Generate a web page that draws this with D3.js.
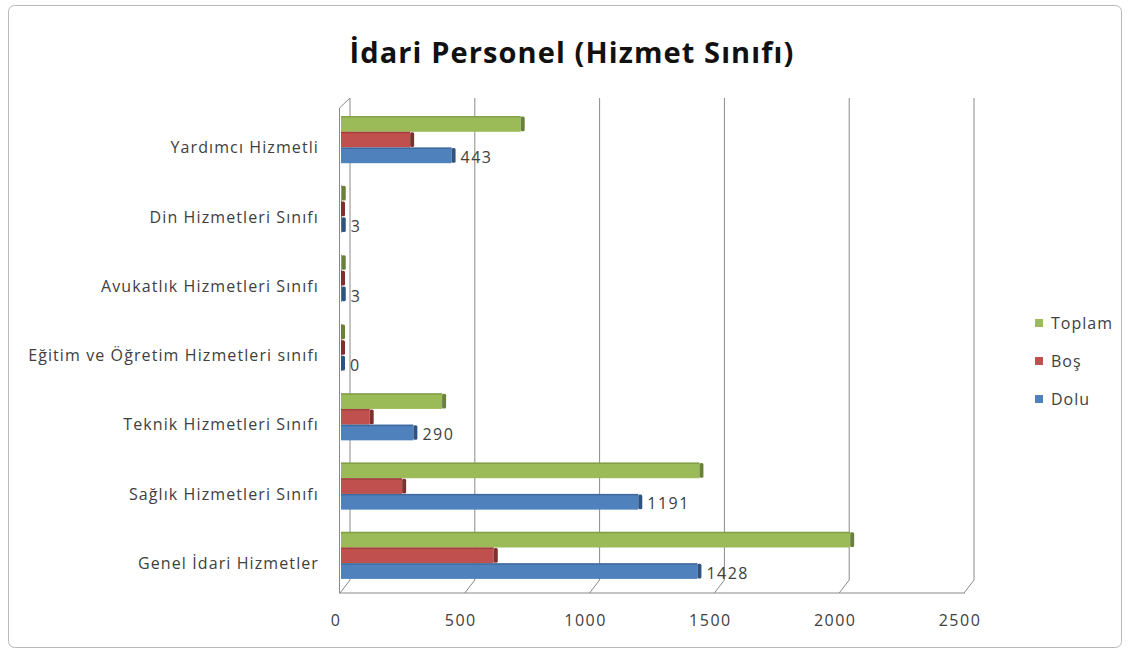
<!DOCTYPE html>
<html>
<head>
<meta charset="utf-8">
<script src="https://cdn.jsdelivr.net/npm/d3@7"></script>
<style>
  body { margin: 0; background: #fff; }
  text { font-family: "Open Sans", "DejaVu Sans", sans-serif; }
</style>
</head>
<body>
<div id="chart"></div>
<script>
// veriler
var categories = ["Yardımcı Hizmetli", "Din Hizmetleri Sınıfı", "Avukatlık Hizmetleri Sınıfı",
    "Eğitim ve Öğretim Hizmetleri sınıfı", "Teknik Hizmetleri Sınıfı", "Sağlık Hizmetleri Sınıfı",
    "Genel İdari Hizmetler"];
var seriesNames = ["Toplam", "Boş", "Dolu"];
var toplam = [720, 3, 3, 0, 405, 1436, 2040];
var bos = [277, 0, 0, 0, 115, 245, 612];
var dolu = [443, 3, 3, 0, 290, 1191, 1428];
var xTicks = [0, 500, 1000, 1500, 2000, 2500];

var colors = {Toplam: "#9BBB59", "Boş": "#C0504D", Dolu: "#4F81BD"};
var darkColors = {Toplam: "#6A8238", "Boş": "#7E302E", Dolu: "#2F5380"};

var width = 1130, height = 653;
var svg = d3.select("#chart").append("svg")
    .attr("width", width)
    .attr("height", height);

// dış çerçeve
svg.append("rect")
    .attr("x", 8.5).attr("y", 5.5)
    .attr("width", 1113).attr("height", 642)
    .attr("rx", 6)
    .attr("fill", "#fff")
    .attr("stroke", "#b8b8b8");

svg.append("text")
    .attr("x", 572).attr("y", 63)
    .attr("text-anchor", "middle")
    .attr("font-size", 29)
    .attr("font-weight", "bold")
    .attr("letter-spacing", 1.1)
    .attr("fill", "#111")
    .text("İdari Personel (Hizmet Sınıfı)");

var x = d3.scaleLinear().domain([0, 2500]).range([341, 965]);
var y = d3.scaleBand().domain(categories).range([105, 590])
    .paddingInner(0.32).paddingOuter(0.16);
var ySub = d3.scaleBand().domain(seriesNames).range([0, y.bandwidth()]);

var depth = {dx: 9, dy: -13};
var floorY = 593, topY = 98;
var gridColor = "#8a8a8a";

// arka duvar ızgara çizgileri
var grid = svg.append("g").attr("id", "grid");
grid.selectAll("line.gv")
    .data(xTicks)
    .enter().append("line")
    .attr("class", "gv")
    .attr("x1", function (d) { return x(d) + depth.dx; })
    .attr("x2", function (d) { return x(d) + depth.dx; })
    .attr("y1", topY)
    .attr("y2", floorY + depth.dy)
    .attr("stroke", gridColor);
// zemin köşegenleri
grid.selectAll("line.gd")
    .data(xTicks)
    .enter().append("line")
    .attr("class", "gd")
    .attr("x1", function (d) { return x(d) + depth.dx; })
    .attr("x2", function (d) { return x(d) - 1; })
    .attr("y1", floorY + depth.dy)
    .attr("y2", floorY)
    .attr("stroke", gridColor);
// zemin ön çizgisi
grid.append("line")
    .attr("x1", x(0) - 2).attr("x2", x(2500))
    .attr("y1", floorY).attr("y2", floorY)
    .attr("stroke", gridColor);
// sol duvar
grid.append("line")
    .attr("x1", x(0) - 1.5).attr("x2", x(0) - 1.5)
    .attr("y1", topY + 10).attr("y2", floorY)
    .attr("stroke", gridColor);
grid.append("line")
    .attr("x1", x(0) - 1.5).attr("x2", x(0) + depth.dx)
    .attr("y1", topY + 10).attr("y2", topY)
    .attr("stroke", gridColor);

// çubuklar
var rows = categories.map(function (c, i) {
    return {cat: c, values: [
        {name: "Toplam", value: toplam[i]},
        {name: "Boş", value: bos[i]},
        {name: "Dolu", value: dolu[i]}
    ]};
});

var groups = svg.append("g").attr("id", "bars")
    .selectAll("g.cat")
    .data(rows)
    .enter().append("g")
    .attr("class", "cat")
    .attr("transform", function (d) { return "translate(0," + y(d.cat) + ")"; });

var bar = groups.selectAll("g.bar")
    .data(function (d) { return d.values; })
    .enter().append("g")
    .attr("class", "bar");

var capW = 4;
bar.append("rect")
    .attr("x", x(0))
    .attr("y", function (d) { return ySub(d.name); })
    .attr("width", function (d) { return Math.max(x(d.value) - x(0), 1); })
    .attr("height", ySub.bandwidth())
    .attr("fill", function (d) { return colors[d.name]; });
// üst kenar
bar.append("rect")
    .attr("x", x(0))
    .attr("y", function (d) { return ySub(d.name); })
    .attr("width", function (d) { return Math.max(x(d.value) - x(0), 1); })
    .attr("height", 1.5)
    .attr("fill", function (d) { return darkColors[d.name]; })
    .attr("opacity", 0.5);
// uç kapağı
bar.append("rect")
    .attr("x", function (d) { return x(d.value); })
    .attr("y", function (d) { return ySub(d.name) + 0.5; })
    .attr("width", capW)
    .attr("height", ySub.bandwidth() - 1)
    .attr("rx", 1.5)
    .attr("fill", function (d) { return darkColors[d.name]; });

// veri etiketleri (Dolu)
groups.append("text")
    .attr("x", function (d) { return x(d.values[2].value) + capW + 5; })
    .attr("y", ySub("Dolu") + ySub.bandwidth() / 2 + 2)
    .attr("dy", "0.35em")
    .attr("font-size", 16)
    .attr("letter-spacing", 1.5)
    .attr("fill", "#404040")
    .text(function (d) { return d.values[2].value; });

// kategori etiketleri
svg.append("g").selectAll("text")
    .data(categories)
    .enter().append("text")
    .attr("x", 319)
    .attr("y", function (d) { return y(d) + y.bandwidth() / 2 + 8; })
    .attr("dy", "0.35em")
    .attr("text-anchor", "end")
    .attr("font-size", 16)
    .attr("letter-spacing", 1.1)
    .attr("fill", "#404040")
    .text(function (d) { return d; });

// x ekseni etiketleri
svg.append("g").selectAll("text")
    .data(xTicks)
    .enter().append("text")
    .attr("x", function (d) { return x(d) - 5; })
    .attr("y", 620)
    .attr("dy", "0.35em")
    .attr("text-anchor", "middle")
    .attr("font-size", 16)
    .attr("letter-spacing", 1.5)
    .attr("fill", "#404040")
    .text(function (d) { return d; });

// lejant
var legend = svg.append("g").selectAll("g")
    .data(seriesNames)
    .enter().append("g")
    .attr("transform", function (d, i) { return "translate(1035," + (323 + i * 38) + ")"; });
legend.append("rect")
    .attr("x", 0).attr("y", -4)
    .attr("width", 8).attr("height", 8)
    .attr("fill", function (d) { return colors[d]; });
legend.append("text")
    .attr("x", 16).attr("y", 0)
    .attr("dy", "0.35em")
    .attr("font-size", 16)
    .attr("letter-spacing", 1)
    .attr("fill", "#404040")
    .text(function (d) { return d; });
</script>
</body>
</html>
